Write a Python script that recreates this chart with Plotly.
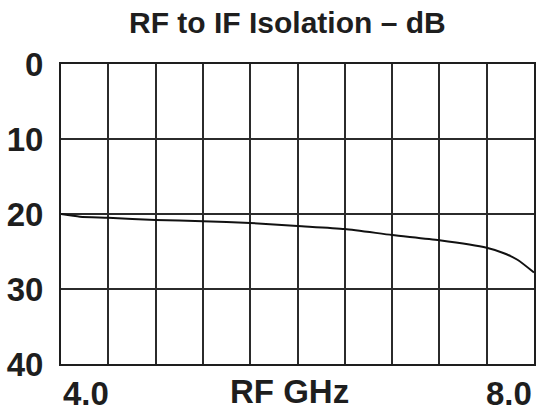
import plotly.graph_objects as go

# Data
freq_ghz = [4.0, 4.16, 4.4, 4.8, 5.2, 5.6, 6.0, 6.4, 6.8, 7.2, 7.6, 7.74, 7.86, 8.0]
isolation_db = [20.0, 20.35, 20.5, 20.8, 20.95, 21.2, 21.6, 22.0, 22.8, 23.5, 24.5, 25.2, 26.1, 27.8]

y_tick_vals = [0, 10, 20, 30, 40]
y_tick_text = ["0", "10", "20", "30", "40"]
x_tick_vals = [4.0, 8.0]
x_tick_text = ["4.0", "8.0"]
x_range = [4.0, 8.0]
y_range = [40, 0]

title_text = "RF to IF Isolation – dB"
x_title = "RF GHz"

FONT = "Liberation Sans, Arial, Helvetica, sans-serif"
INK = "#1e1e1e"

fig = go.Figure()
fig.add_trace(go.Scatter(
    x=freq_ghz, y=isolation_db, mode="lines",
    line=dict(color="#111111", width=2, shape="spline", smoothing=0.6),
    showlegend=False, hoverinfo="skip",
))

fig.update_layout(
    width=541, height=412,
    margin=dict(l=61, r=7, t=64, b=48, autoexpand=False),
    paper_bgcolor="white", plot_bgcolor="white",
    font=dict(family=FONT, color=INK, size=33, weight="bold"),
    showlegend=False,
)

# title (paper coords are relative to the plot area: 300px tall, 473px wide)
fig.add_annotation(
    x=(287 - 61) / 473, y=(364 - 22) / 300, xref="paper", yref="paper",
    xanchor="center", yanchor="middle", text=title_text, showarrow=False,
    font=dict(family=FONT, size=30, color=INK, weight="bold"),
)

fig.update_xaxes(
    range=x_range, dtick=0.4, tick0=4.0,
    showgrid=True, gridcolor="#2b2b2b", gridwidth=2,
    showline=True, linecolor=INK, linewidth=2, mirror=True,
    showticklabels=False, ticks="", zeroline=False, automargin=False,
)
fig.update_yaxes(
    range=y_range, tickvals=y_tick_vals, ticktext=y_tick_text,
    showgrid=True, gridcolor="#2b2b2b", gridwidth=2,
    showline=True, linecolor=INK, linewidth=2, mirror=True,
    ticks="", ticklabelstandoff=9, zeroline=False, automargin=False,
    tickfont=dict(family=FONT, size=33, color=INK, weight="bold"),
)

# x tick labels placed inside the ends of the axis, as in the reference
for v, t in zip(x_tick_vals, x_tick_text):
    fig.add_annotation(
        x=v, y=0, xref="x", yref="paper", yanchor="middle",
        xanchor="left" if v == x_range[0] else "right",
        text=t, showarrow=False, yshift=-29,
        font=dict(family=FONT, size=33, color=INK, weight="bold"),
    )

fig.add_annotation(
    x=0.5, y=0, xref="paper", yref="paper", yanchor="middle", xanchor="center",
    text=x_title, showarrow=False, yshift=-27, xshift=-8,
    font=dict(family=FONT, size=33, color=INK, weight="bold"),
)

# remove the default 8px page margin so the 541x412 figure fills the window
fig.write_html(
    "out.html",
    config={"displayModeBar": False},
    post_script="document.body.style.margin='0';",
)
